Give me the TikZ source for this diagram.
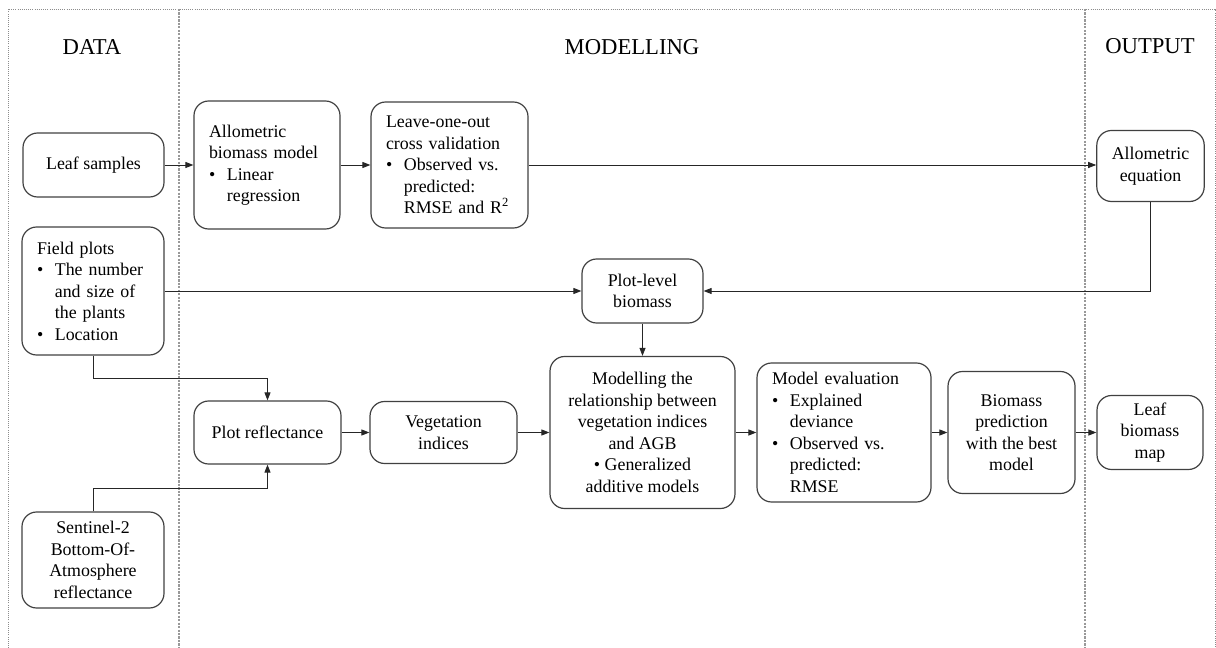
\documentclass[tikz,border=0pt]{standalone}
\usepackage{fontspec}
\setmainfont{Liberation Serif}
\usetikzlibrary{arrows.meta}
\newcommand{\bul}{\makebox[1em][l]{\textbullet}}
\newcommand{\ind}{\hspace*{1em}}

\begin{document}
\begin{tikzpicture}[x=0.75pt, y=-0.75pt,
    box/.style={draw=black!75, line width=0.9pt, rounded corners=11pt,
      inner xsep=11.25pt, inner ysep=2pt, text=black,
      font=\fontsize{13.4}{16.1}\selectfont},
    lbox/.style={box, align=left},
    cbox/.style={box, align=center},
    arr/.style={-{Triangle[length=6pt,width=4.5pt]}, line width=0.7pt, black!85},
    frame/.style={black!45, densely dotted, line width=0.6pt},
    divider/.style={black!40, densely dotted, line width=1.6pt},
    title/.style={font=\fontsize{17}{20}\selectfont, text=black}]
  \useasboundingbox (0,0) rectangle (1216,648);

  % columns
  \draw[frame] (8,648) -- (8,9) -- (1215,9) -- (1215,648);
  \draw[divider] (179,9) -- (179,648);
  \draw[divider] (1085,9) -- (1085,648);
  \node[title] (tdata) at (92,47) {DATA};
  \node[title] (tmod) at (632,47) {MODELLING};
  \node[title] (tout) at (1150,46) {OUTPUT};

  % data
  \node[cbox, minimum width=105.75pt, minimum height=48pt] (leaf) at (93.5,165) {Leaf samples};
  \node[lbox, text width=84pt, minimum height=96pt] (field) at (93,291)
    {Field plots\\\bul The number\\\ind and size of\\\ind the plants\\\bul Location};
  \node[cbox, minimum width=106.5pt, minimum height=72pt] (s2) at (93,560)
    {Sentinel-2\\Bottom-Of-\\Atmosphere\\reflectance};

  % modelling
  \node[lbox, text width=87pt, minimum height=96pt] (allo) at (267,165)
    {Allometric\\biomass model\\\bul Linear\\\ind regression};
  \node[lbox, text width=95.25pt, minimum height=94.5pt] (loo) at (449.5,165)
    {Leave-one-out\\cross validation\\\bul Observed vs.\\\ind predicted:\\\ind RMSE and R\textsuperscript{2}};
  \node[cbox, minimum width=90.75pt, minimum height=48pt] (plotbio) at (642.5,291)
    {Plot-level\\biomass};
  \node[cbox, minimum width=110.25pt, minimum height=47.25pt] (refl) at (267.5,432.5)
    {Plot reflectance};
  \node[cbox, minimum width=110.25pt, minimum height=46.5pt] (vi) at (443.5,432.5)
    {Vegetation\\indices};
  \node[cbox, minimum width=138.75pt, minimum height=114pt] (gam) at (642.5,432.5)
    {Modelling the\\relationship between\\vegetation indices\\and AGB\\\textbullet\ Generalized\\additive models};
  \node[lbox, text width=108pt, minimum height=104.25pt] (eval) at (844,432.5)
    {Model evaluation\\\bul Explained\\\ind deviance\\\bul Observed vs.\\\ind predicted:\\\ind RMSE};
  \node[cbox, minimum width=95.25pt, minimum height=91.5pt] (pred) at (1011.5,432.5)
    {Biomass\\prediction\\with the best\\model};

  % output
  \node[cbox, minimum width=80.25pt, minimum height=53.25pt] (eq) at (1150.5,166)
    {Allometric\\equation};
  \node[cbox, minimum width=79.5pt, minimum height=55.5pt] (map) at (1150,432.5)
    {Leaf\\biomass\\map};

  \coordinate (k1) at (267.5,378);
  \coordinate (k2) at (267.5,488);

  % connectors
  \draw[arr] (leaf) -- (allo);
  \draw[arr] (allo) -- (loo);
  \draw[arr] (loo.east) -- (loo.east -| eq.west);
  \draw[arr] (field.east) -- (plotbio.west);
  \draw[arr] (eq) |- (plotbio);
  \draw[arr] (plotbio) -- (gam);
  \draw[arr] (field.south) |- (k1) -- (refl.north);
  \draw[arr] (s2.north) |- (k2) -- (refl.south);
  \draw[arr] (refl) -- (vi);
  \draw[arr] (vi) -- (gam);
  \draw[arr] (gam) -- (eval);
  \draw[arr] (eval) -- (pred);
  \draw[arr] (pred) -- (map);
\end{tikzpicture}
\end{document}
